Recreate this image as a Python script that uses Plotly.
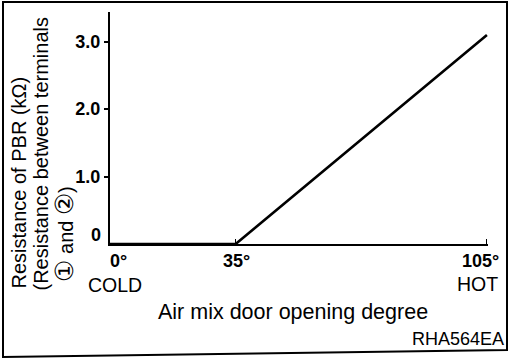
import plotly.graph_objects as go

# Air mix door opening degree (deg) vs. PBR resistance (kOhm)
door_angle = [0, 35, 105]
resistance = [0.0, 0.0, 3.1]

x_tick_vals = [0, 35, 105]
x_tick_text = ["0°", "35°", "105°"]
y_tick_vals = [1, 2, 3]
y_tick_text = ["1.0", "2.0", "3.0"]
end_labels = ["COLD", "HOT"]

W, H = 511, 360
L, R, T, B = 110, 23, 12, 116
PW, PH = W - L - R, H - T - B


def px(x):
    return (x - L) / PW


def py(y):
    return (H - B - y) / PH


FONT = "Liberation Sans, Arial, Helvetica, sans-serif"

fig = go.Figure()
fig.add_trace(go.Scatter(
    x=door_angle, y=resistance, mode="lines",
    line=dict(color="black", width=2.6), hoverinfo="skip", showlegend=False,
))

annotations = []
# x tick labels: first left-aligned, middle centred, last right-aligned
x_anchor = ["left", "center", "right"]
x_shift = [-2, 1, 14]
for v, t, a, s in zip(x_tick_vals, x_tick_text, x_anchor, x_shift):
    annotations.append(dict(
        x=v, xref="x", y=0, yref="paper", text=t, showarrow=False,
        xanchor=a, yanchor="middle", xshift=s, yshift=-17,
        font=dict(family=FONT, size=18, color="black", weight="bold"),
    ))
# zero label of the y axis, sitting just above the baseline
annotations.append(dict(
    x=px(103), xref="paper", y=0, yref="y", text="0", showarrow=False,
    xanchor="right", yanchor="middle", yshift=9,
    font=dict(family=FONT, size=18, color="black", weight="bold"),
))
# COLD / HOT under the end ticks
annotations.append(dict(
    x=x_tick_vals[0], xref="x", y=0, yref="paper", text=end_labels[0],
    showarrow=False, xanchor="left", yanchor="middle", xshift=-24, yshift=-41,
    font=dict(family=FONT, size=19.5, color="black"),
))
annotations.append(dict(
    x=x_tick_vals[-1], xref="x", y=0, yref="paper", text=end_labels[1],
    showarrow=False, xanchor="right", yanchor="middle", xshift=13, yshift=-40,
    font=dict(family=FONT, size=19.5, color="black"),
))
# x axis title
annotations.append(dict(
    x=px(292.5), xref="paper", y=py(312), yref="paper",
    text="Air mix door opening degree", showarrow=False,
    xanchor="center", yanchor="middle",
    font=dict(family=FONT, size=21.5, color="black"),
))
# figure code
annotations.append(dict(
    x=px(506), xref="paper", y=py(339), yref="paper", text="RHA564EA",
    showarrow=False, xanchor="right", yanchor="middle",
    font=dict(family=FONT, size=18, color="black"),
))
# y axis title, three rotated lines (circled terminal numbers drawn larger)
circ = '<span style="font-size:25px">{}</span>'
y_title_lines = [
    "Resistance of PBR (kΩ)",
    "(Resistance between terminals",
    circ.format("①") + " and " + circ.format("②") + ")",
]
for line, cx, bottom in zip(y_title_lines, [18.5, 40, 63], [291, 293, 284]):
    annotations.append(dict(
        x=px(cx), xref="paper", y=py(bottom), yref="paper", text=line,
        showarrow=False, textangle=-90, xanchor="center", yanchor="bottom",
        font=dict(family=FONT, size=20, color="black"),
    ))

# outer frame (slightly skewed, like a scanned sheet)
frame_path = "M {a},{b} L {c},{b} L {c},{d} L {a},{e} Z".format(
    a=px(3), b=py(2), c=px(507), d=py(350), e=py(357))

fig.update_layout(
    width=W, height=H,
    margin=dict(l=L, r=R, t=T, b=B),
    paper_bgcolor="white", plot_bgcolor="white",
    font=dict(family=FONT, color="black"),
    xaxis=dict(
        range=[0, 105.3], showgrid=False, zeroline=False,
        showline=True, linecolor="black", linewidth=2,
        tickvals=x_tick_vals, ticks="inside", ticklen=5, tickwidth=1,
        tickcolor="black", showticklabels=False, fixedrange=True,
    ),
    yaxis=dict(
        range=[0, 3.44], showgrid=False, zeroline=False,
        showline=True, linecolor="black", linewidth=2,
        tickvals=y_tick_vals, ticktext=y_tick_text,
        ticks="outside", ticklen=4, tickwidth=1.5, tickcolor="black",
        tickfont=dict(family=FONT, size=18, color="black", weight="bold"),
        fixedrange=True,
    ),
    annotations=annotations,
    shapes=[dict(type="path", xref="paper", yref="paper", path=frame_path,
                 line=dict(color="black", width=2), fillcolor="rgba(0,0,0,0)")],
    showlegend=False,
)

fig.write_html("out.html")
